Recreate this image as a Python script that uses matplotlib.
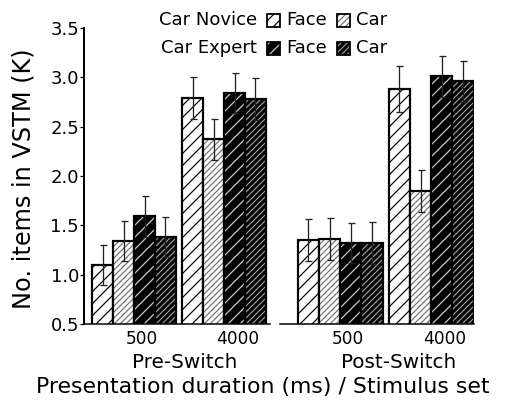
import numpy as np
import matplotlib
matplotlib.use('Agg')
import matplotlib.pyplot as plt
from matplotlib.patches import Rectangle

# data, rows = Pre-Switch / Post-Switch, cols = 500 / 4000 ms
durations = ['500', '4000']
stim_sets = ['Pre-Switch', 'Post-Switch']
novice_face = [[1.10, 2.79], [1.35, 2.88]]
novice_car = [[1.34, 2.37], [1.36, 1.85]]
expert_face = [[1.59, 2.84], [1.32, 3.01]]
expert_car = [[1.38, 2.78], [1.32, 2.96]]
novice_face_err = [[0.20, 0.21], [0.21, 0.23]]
novice_car_err = [[0.20, 0.21], [0.21, 0.21]]
expert_face_err = [[0.21, 0.20], [0.20, 0.21]]
expert_car_err = [[0.20, 0.21], [0.21, 0.21]]

series = [
    (novice_face, novice_face_err, 'white', 'black', '//'),
    (novice_car, novice_car_err, 'white', '#707070', '////'),
    (expert_face, expert_face_err, 'black', '#d0d0d0', '//'),
    (expert_car, expert_car_err, 'black', '#9a9a9a', '////'),
]

plt.rcParams['font.family'] = 'DejaVu Sans'
plt.rcParams['hatch.linewidth'] = 1.2

fig = plt.figure(figsize=(515 / 72, 401 / 72), dpi=72)
ax1 = fig.add_axes([84 / 515, 77 / 401, 186 / 515, 296 / 401])
ax2 = fig.add_axes([280 / 515, 77 / 401, 194 / 515, 296 / 401])

w = 0.233
x = np.arange(len(durations))
offsets = [-1.5, -0.5, 0.5, 1.5]

for k, ax in enumerate([ax1, ax2]):
    for off, (vals, errs, fc, hc, hatch) in zip(offsets, series):
        xs = x + off * w
        v = np.array(vals[k])
        ax.bar(xs, v, w, color=fc, edgecolor=hc, hatch=hatch, linewidth=0)
        ax.bar(xs, v, w, fill=False, edgecolor='black', linewidth=2.2)
        ax.errorbar(xs, v, yerr=errs[k], fmt='none', ecolor='#222222',
                    elinewidth=1.3, capsize=3.5, capthick=1.3)
    ax.set_ylim(0.5, 3.5)
    ax.set_xticks(x + np.array([0.09, 0.15]))
    ax.set_xticklabels(durations, fontsize=17)
    ax.tick_params(axis='x', length=0, pad=6)
    for s in ['top', 'right']:
        ax.spines[s].set_visible(False)
    ax.spines['bottom'].set_linewidth(1.5)

ax1.set_xlim(-0.556, 1.511)
ax2.set_xlim(-0.66, 1.47)
ax1.set_yticks([0.5, 1.0, 1.5, 2.0, 2.5, 3.0, 3.5])
ax1.set_yticklabels(['0.5', '1.0', '1.5', '2.0', '2.5', '3.0', '3.5'], fontsize=18)
ax1.tick_params(axis='y', length=4, width=1.3, pad=1)
ax1.spines['left'].set_linewidth(2)
ax1.set_ylabel('No. items in VSTM (K)', fontsize=24)
ax1.yaxis.set_label_coords(-0.26, 0.49)
ax2.spines['left'].set_visible(False)
ax2.set_yticks([])

fig.text(185 / 515, 1 - 362 / 401, stim_sets[0], ha='center', va='center', fontsize=20)
fig.text(399 / 515, 1 - 362 / 401, stim_sets[1], ha='center', va='center', fontsize=20)
fig.text(263 / 515, 1 - 387 / 401, 'Presentation duration (ms) / Stimulus set',
         ha='center', va='center', fontsize=22)

# legend drawn by hand
rows = [('Car Novice', 20, series[0], series[1]), ('Car Expert', 48, series[2], series[3])]
for label, yc, sf, sc in rows:
    fy = 1 - yc / 401
    fig.text(257 / 515, fy, label, ha='right', va='center', fontsize=18)
    for bx, s, name in [(267, sf, 'Face'), (337, sc, 'Car')]:
        fig.add_artist(Rectangle((bx / 515, 1 - (yc + 7) / 401), 13 / 515, 13 / 401,
                                 facecolor=s[2], edgecolor=s[3], hatch=s[4], linewidth=0,
                                 transform=fig.transFigure))
        fig.add_artist(Rectangle((bx / 515, 1 - (yc + 7) / 401), 13 / 515, 13 / 401,
                                 fill=False, edgecolor='black', linewidth=1.8,
                                 transform=fig.transFigure))
        fig.text((bx + 19) / 515, fy, name, ha='left', va='center', fontsize=18)

fig.savefig('out.png', dpi=72)
